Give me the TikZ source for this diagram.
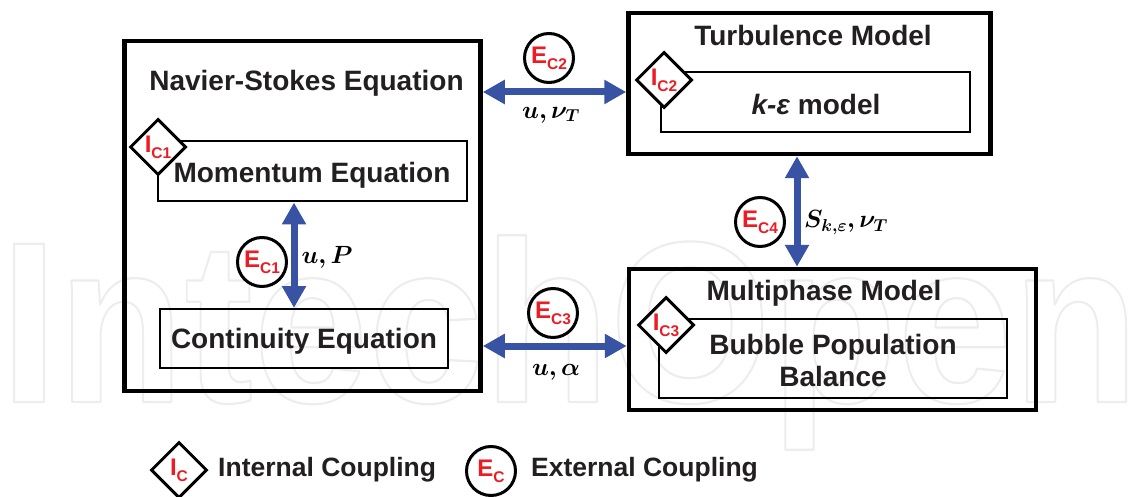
\documentclass[tikz,border=0pt]{standalone}
\usepackage{amsmath}
\usepackage{bm}
\usepackage{fontspec}
\setmainfont{Liberation Sans}
\usetikzlibrary{arrows.meta,shapes.geometric}
\definecolor{lblue}{HTML}{3953A4}
\definecolor{lred}{HTML}{ED1C24}
\definecolor{ltxt}{HTML}{231F20}
\tikzset{
  outerbox/.style={draw=black,line width=4.5pt,rectangle,inner sep=0pt},
  innerbox/.style={draw=black,line width=2pt,rectangle,inner sep=0pt},
  title/.style={inner sep=0pt,text=ltxt,font=\bfseries\fontsize{28}{32}\selectfont},
  legendtext/.style={inner sep=0pt,text=ltxt,anchor=west,font=\bfseries\fontsize{26.5}{31}\selectfont},
  mark I/.style={draw=black,fill=white,line width=3pt,diamond,shape aspect=1,inner sep=0pt,minimum width=56pt,minimum height=56pt,text=lred,font=\bfseries\fontsize{24}{24}\selectfont},
  mark E/.style={draw=black,fill=white,line width=3pt,circle,inner sep=0pt,minimum size=49pt,text=lred,font=\bfseries\fontsize{24}{24}\selectfont},
  dbl/.style={draw=lblue,line width=7pt,{Triangle[length=22pt,width=23pt]}-{Triangle[length=22pt,width=23pt]}},
  mathlab/.style={inner sep=0pt,text=black,font=\fontsize{23}{28}\selectfont},
  wmark/.style={inner sep=0pt,anchor=base west,font=\bfseries\fontsize{230}{230}\selectfont},
}
\newcommand{\sm}[2]{#1\raisebox{-6pt}{\fontsize{15.5}{16}\selectfont #2}}
\begin{document}
\begin{tikzpicture}[x=1pt,y=-1pt]
\useasboundingbox (0,0) rectangle (1143,497);
\node[wmark] (wm) at (0,402) {\scalebox{0.9}[1]{\special{pdf:literal 1 Tr 1 j 0.93 0.93 0.93 RG 2.2 w}IntechOpen\special{pdf:literal 0 Tr 1 w 0 j 0 0 0 RG}}};

\node[outerbox,minimum width=356pt,minimum height=350pt] (ns) at (302.5,216) {};
\node[outerbox,minimum width=362pt,minimum height=141pt] (turb) at (809.5,83.5) {};
\node[outerbox,minimum width=407pt,minimum height=141pt] (multi) at (832.5,339.5) {};

\node[title] (nst) at (306.5,83) {Navier-Stokes Equation};
\node[title] (tt) at (813,35.5) {Turbulence Model};
\node[title] (mt) at (824,293) {Multiphase Model};

\node[innerbox,minimum width=309pt,minimum height=60pt] (mom) at (312,171.5) {};
\node[title] (momt) at (312,175) {Momentum Equation};
\node[innerbox,minimum width=288pt,minimum height=59pt] (cont) at (304,338.5) {};
\node[title] (contt) at (304,341) {Continuity Equation};
\node[innerbox,minimum width=309pt,minimum height=60pt] (ke) at (815.5,102) {};
\node[title] (ket) at (816,104.5) {\textit{k-ε} model};
\node[innerbox,minimum width=348pt,minimum height=79pt] (bub) at (833,358.5) {};
\node[title,align=center] (bubt) at (833,360) {Bubble Population\\Balance};

\node[mark I] (i1) at (158,147) {\sm{I}{C1}};
\node[mark I] (i2) at (664,80) {\sm{I}{C2}};
\node[mark I] (i3) at (666,325) {\sm{I}{C3}};

\coordinate (y1) at (0,92);
\coordinate (y3) at (0,346);
\coordinate (x1) at (294,0);
\coordinate (x4) at (797,0);
\draw[dbl] (ns.east |- y1) -- (turb.west |- y1);
\draw[dbl] (ns.east |- y3) -- (multi.west |- y3);
\draw[dbl] (mom.south -| x1) -- (cont.north -| x1);
\draw[dbl] (turb.south -| x4) -- (multi.north -| x4);

\node[mark E] (e2) at (549,58) {\sm{E}{C2}};
\node[mark E] (e1) at (262,262) {\sm{E}{C1}};
\node[mark E] (e3) at (553,313) {\sm{E}{C3}};
\node[mark E] (e4) at (760,222) {\sm{E}{C4}};

\node[mathlab] (l2) at (551,115) {$\boldsymbol{u,\nu_T}$};
\node[mathlab] (l1) at (327,257) {$\boldsymbol{u,P}$};
\node[mathlab] (l3) at (556,372) {$\boldsymbol{u,\alpha}$};
\node[mathlab] (l4) at (846,223) {$\boldsymbol{S_{k,\varepsilon},\nu_T}$};

\node[mark I] (li) at (179,470) {\sm{I}{C}};
\node[legendtext] (lit) at (218,470) {Internal Coupling};
\node[mark E] (le) at (491,471) {\sm{E}{C}};
\node[legendtext] (let) at (531,470) {External Coupling};
\end{tikzpicture}
\end{document}
